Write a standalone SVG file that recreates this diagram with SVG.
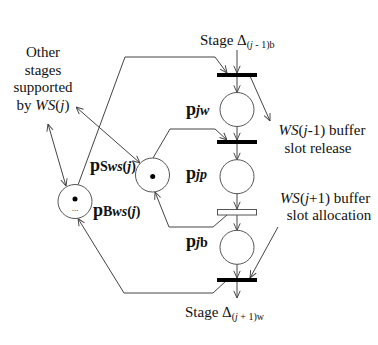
<svg xmlns="http://www.w3.org/2000/svg" width="378" height="345" viewBox="0 0 378 345">
<style>
text{font-family:"Liberation Serif","Times New Roman",serif;fill:#111}
.t{font-size:15px}
.lbl{font-size:18px;font-weight:bold}
.sub{font-size:14px;font-weight:bold}
.place{fill:#fff;stroke:#555;stroke-width:1}
.bar{fill:#000}
.hbar{fill:#fff;stroke:#555;stroke-width:1}
.c{fill:none;stroke:#444;stroke-width:1}
</style>
<defs>
<marker id="a" viewBox="0 0 10 10" refX="10" refY="5" markerWidth="8" markerHeight="8" markerUnits="userSpaceOnUse" orient="auto-start-reverse">
<path d="M1,1 L10,5 L1,9" fill="none" stroke="#444" stroke-width="1.2"/>
</marker>
</defs>
<rect width="378" height="345" fill="#fff"/>
<g id="connectors">
<path class="c" d="M237,50 L237,73" marker-end="url(#a)"/>
<path class="c" d="M237,77 L237,92.5" marker-end="url(#a)"/>
<path class="c" d="M237,126 L237,140" marker-end="url(#a)"/>
<path class="c" d="M237,144 L237,160" marker-end="url(#a)"/>
<path class="c" d="M237,193.5 L237,209" marker-end="url(#a)"/>
<path class="c" d="M237,215 L237,230.5" marker-end="url(#a)"/>
<path class="c" d="M237,264 L237,278" marker-end="url(#a)"/>
<path class="c" d="M237,282 L237,298" marker-end="url(#a)"/>
<path class="c" d="M250,76 L270,121" marker-end="url(#a)"/>
<path class="c" d="M278,227 L250,278" marker-end="url(#a)"/>
<path class="c" d="M78,185 L125,57 L215,57 L227,73" marker-end="url(#a)"/>
<path class="c" d="M153,158 L170,129 L215,129 L227,140" marker-end="url(#a)"/>
<path class="c" d="M227,215 L213,227 L169,227 L155,192" marker-end="url(#a)"/>
<path class="c" d="M226,281 L213,293 L124,293 L78,218.5" marker-end="url(#a)"/>
<path class="c" d="M76,107 L140,163" marker-start="url(#a)" marker-end="url(#a)"/>
<path class="c" d="M48,124 L66,186" marker-start="url(#a)" marker-end="url(#a)"/>
</g>
<g id="t1"><rect class="bar" x="217" y="73" width="40" height="4"/></g>
<g id="t2"><rect class="bar" x="217" y="140" width="40" height="4"/></g>
<g id="t3"><rect class="hbar" x="217.5" y="209.5" width="39" height="5.5"/></g>
<g id="t4"><rect class="bar" x="217" y="278" width="40" height="4"/></g>
<g id="pjw"><circle class="place" cx="237" cy="109.5" r="17"/>
<text x="186" y="115"><tspan class="lbl">p</tspan><tspan class="sub" font-style="italic">jw</tspan></text></g>
<g id="pjp"><circle class="place" cx="237" cy="176.7" r="17"/>
<text x="186" y="179"><tspan class="lbl">p</tspan><tspan class="sub" font-style="italic">jp</tspan></text></g>
<g id="pjb"><circle class="place" cx="237" cy="247.3" r="17"/>
<text x="186" y="247"><tspan class="lbl">p</tspan><tspan class="sub"><tspan font-style="italic">j</tspan>b</tspan></text></g>
<g id="psws"><circle class="place" cx="152.5" cy="175" r="17"/>
<circle cx="152.7" cy="176.5" r="2.5" fill="#000"/>
<text x="90" y="171"><tspan class="lbl">p</tspan><tspan class="sub">S<tspan font-style="italic">ws</tspan>(<tspan font-style="italic">j</tspan>)</tspan></text></g>
<g id="pbws"><circle class="place" cx="75" cy="201.5" r="17"/>
<circle cx="75" cy="199" r="2.5" fill="#000"/>
<text x="75" y="211" font-size="9" text-anchor="middle">...</text>
<text x="93" y="216"><tspan class="lbl">p</tspan><tspan class="sub">B<tspan font-style="italic">ws</tspan>(<tspan font-style="italic">j</tspan>)</tspan></text></g>
<g id="labels">
<text class="t" x="200" y="45">Stage Δ<tspan font-size="10" dy="3">(<tspan font-style="italic">j</tspan> - 1)b</tspan></text>
<text class="t" x="185" y="317">Stage Δ<tspan font-size="10" dy="3">(<tspan font-style="italic">j</tspan> + 1)w</tspan></text>
<text class="t" x="322" y="135" text-anchor="middle"><tspan font-style="italic">WS</tspan>(<tspan font-style="italic">j</tspan>-1) buffer</text>
<text class="t" x="318" y="153" text-anchor="middle">slot release</text>
<text class="t" x="325" y="203" text-anchor="middle"><tspan font-style="italic">WS</tspan>(<tspan font-style="italic">j</tspan>+1) buffer</text>
<text class="t" x="329" y="220" text-anchor="middle">slot allocation</text>
<text class="t" x="43" y="56.5" text-anchor="middle">Other</text>
<text class="t" x="43" y="75" text-anchor="middle">stages</text>
<text class="t" x="43" y="92" text-anchor="middle">supported</text>
<text class="t" x="43" y="110" text-anchor="middle">by <tspan font-style="italic">WS</tspan>(<tspan font-style="italic">j</tspan>)</text>
</g>
</svg>
